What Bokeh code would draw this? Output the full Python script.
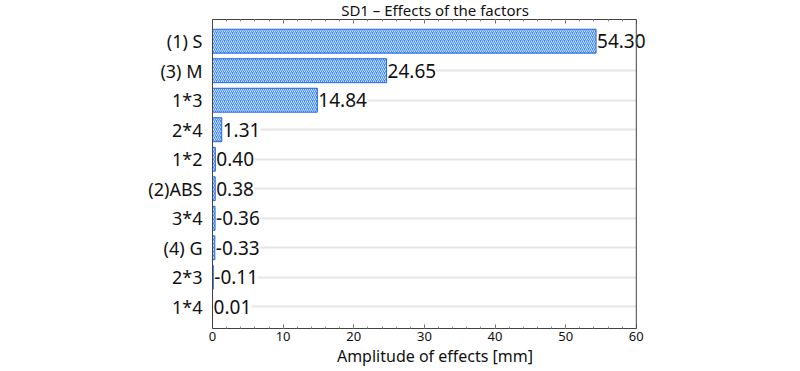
from bokeh.plotting import figure
from bokeh.models import ColumnDataSource, FactorRange, Range1d, LinearAxis, SingleIntervalTicker, LabelSet, Span
from bokeh.core.properties import value
from bokeh.embed import file_html
from bokeh.resources import INLINE

factors = ["(1) S", "(3) M", "1*3", "2*4", "1*2", "(2)ABS", "3*4", "(4) G", "2*3", "1*4"]
effects = [54.30, 24.65, 14.84, 1.31, 0.40, 0.38, -0.36, -0.33, -0.11, 0.01]
x_ticks = [0, 10, 20, 30, 40, 50, 60]
title_text = "SD1 \u2013 Effects of the factors"

FONT = "Noto Sans"
X0, X1 = x_ticks[0], x_ticks[-1]
X_EXTRA = 3  # room past the frame so the last label is not clipped
SHIFT = 4    # pull the figure up a little so the title sits at the top edge

src = ColumnDataSource(dict(
    f=factors,
    amp=[abs(v) for v in effects],
    lab=["%.2f" % v for v in effects],
))

p = figure(width=800, height=371 + SHIFT, output_backend="svg", toolbar_location=None,
           y_range=FactorRange(factors=factors[::-1], range_padding=0.047),
           x_range=Range1d(X0, X1 + X_EXTRA),
           min_border_left=212, min_border_right=143, min_border_top=0, min_border_bottom=43)
p.styles = {"margin-top": "-%dpx" % SHIFT}

p.hbar(y="f", left=0, right="amp", height=0.81, source=src,
       fill_color="#3d8af7", line_color="#2266dd", line_width=1,
       hatch_pattern="/", hatch_color="white", hatch_alpha=0.75, hatch_scale=4, hatch_weight=1)

lab_kw = dict(x="amp", y="f", text="lab", source=src, x_offset=1,
              text_align="left", text_baseline="middle",
              text_font=value(FONT), text_font_size=value("19px"), text_color="#111111",
              background_fill_color="white")
try:
    labels = LabelSet(padding=dict(left=0, right=8, top=2, bottom=2), **lab_kw)
except Exception:
    labels = LabelSet(**lab_kw)
p.add_layout(labels)

# right frame edge at the last tick value
p.add_layout(Span(location=X1, dimension="height", line_color="#444444", line_width=1))

def style_x(ax):
    ax.ticker = SingleIntervalTicker(interval=10, num_minor_ticks=5)
    ax.bounds = (X0, X1)
    ax.major_tick_in = 4
    ax.major_tick_out = 0
    ax.minor_tick_in = 2
    ax.minor_tick_out = 0
    ax.axis_line_color = "#444444"
    ax.major_tick_line_color = "#666666"
    ax.minor_tick_line_color = "#888888"

xa = p.xaxis[0]
style_x(xa)
xa.axis_label = "Amplitude of effects [mm]"
xa.axis_label_text_font = FONT
xa.axis_label_text_font_size = "16px"
xa.axis_label_text_font_style = "normal"
xa.axis_label_text_color = "#111111"
xa.axis_label_standoff = 1
xa.major_label_text_font = FONT
xa.major_label_text_font_size = "13px"
xa.major_label_text_color = "#111111"
xa.major_label_standoff = 3

top = LinearAxis()
style_x(top)
top.major_label_overrides = {t: "" for t in x_ticks}
top.major_label_standoff = 0
top.major_label_text_font_size = "1px"
top.axis_label = title_text
top.axis_label_text_font = FONT
top.axis_label_text_font_size = "15px"
top.axis_label_text_font_style = "normal"
top.axis_label_text_color = "#111111"
top.axis_label_standoff = 0
p.add_layout(top, "above")

ya = p.yaxis[0]
ya.major_label_text_font = FONT
ya.major_label_text_font_size = "18px"
ya.major_label_text_color = "#111111"
ya.major_label_standoff = 4
ya.major_tick_line_color = None
ya.axis_line_color = "#444444"

p.xgrid.grid_line_color = None
p.ygrid.grid_line_color = "#e6e6e6"
p.ygrid.grid_line_width = 2
try:
    p.ygrid.cross_bounds = (X0, X1)
except Exception:
    pass
p.outline_line_color = None

open("out.html", "w").write(file_html(p, INLINE))
